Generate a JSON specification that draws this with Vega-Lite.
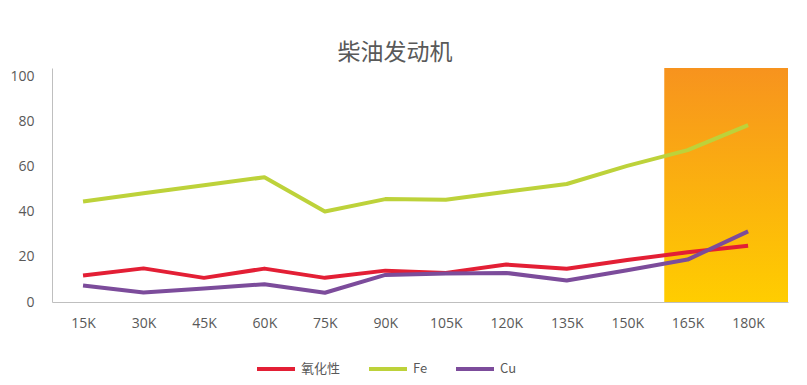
{
  "$schema": "https://vega.github.io/schema/vega-lite/v6.json",
  "width": 736,
  "height": 234,
  "autosize": "none",
  "padding": {"left": 52, "top": 68, "right": 19, "bottom": 83},
  "background": "white",
  "config": {"view": {"stroke": null}},
  "title": {
    "text": "柴油发动机",
    "font": "Noto Sans CJK SC",
    "fontSize": 23,
    "fontWeight": "normal",
    "color": "#595959",
    "anchor": "middle",
    "dx": -25,
    "offset": 3
  },
  "datasets": {
    "lines": [
      {"k": 15, "series": "氧化性", "value": 11.7},
      {"k": 30, "series": "氧化性", "value": 14.9},
      {"k": 45, "series": "氧化性", "value": 10.7},
      {"k": 60, "series": "氧化性", "value": 14.8},
      {"k": 75, "series": "氧化性", "value": 10.7},
      {"k": 90, "series": "氧化性", "value": 13.9},
      {"k": 105, "series": "氧化性", "value": 12.9},
      {"k": 120, "series": "氧化性", "value": 16.6},
      {"k": 135, "series": "氧化性", "value": 14.7},
      {"k": 150, "series": "氧化性", "value": 18.6},
      {"k": 165, "series": "氧化性", "value": 22.0},
      {"k": 180, "series": "氧化性", "value": 24.9},
      {"k": 15, "series": "Fe", "value": 44.5},
      {"k": 30, "series": "Fe", "value": 48.2},
      {"k": 45, "series": "Fe", "value": 51.7},
      {"k": 60, "series": "Fe", "value": 55.3},
      {"k": 75, "series": "Fe", "value": 40.1},
      {"k": 90, "series": "Fe", "value": 45.6},
      {"k": 105, "series": "Fe", "value": 45.3},
      {"k": 120, "series": "Fe", "value": 48.9},
      {"k": 135, "series": "Fe", "value": 52.3},
      {"k": 150, "series": "Fe", "value": 60.3},
      {"k": 165, "series": "Fe", "value": 67.3},
      {"k": 180, "series": "Fe", "value": 78.4},
      {"k": 15, "series": "Cu", "value": 7.3},
      {"k": 30, "series": "Cu", "value": 4.2},
      {"k": 45, "series": "Cu", "value": 6.0},
      {"k": 60, "series": "Cu", "value": 7.9},
      {"k": 75, "series": "Cu", "value": 4.1},
      {"k": 90, "series": "Cu", "value": 12.0},
      {"k": 105, "series": "Cu", "value": 12.6},
      {"k": 120, "series": "Cu", "value": 12.9},
      {"k": 135, "series": "Cu", "value": 9.5},
      {"k": 150, "series": "Cu", "value": 14.1},
      {"k": 165, "series": "Cu", "value": 18.8},
      {"k": 180, "series": "Cu", "value": 31.3}
    ],
    "band": [{"start": 159.2, "end": 189.9, "low": 0, "high": 103.7}]
  },
  "layer": [
    {
      "data": {"name": "band"},
      "mark": {
        "type": "rect",
        "color": {
          "gradient": "linear",
          "x1": 0, "y1": 0, "x2": 0, "y2": 1,
          "stops": [
            {"offset": 0, "color": "#F7931E"},
            {"offset": 1, "color": "#FFCD00"}
          ]
        }
      },
      "encoding": {
        "x": {"field": "start", "type": "quantitative", "scale": {"domain": [7.3, 189.9], "nice": false, "zero": false}},
        "x2": {"field": "end"},
        "y": {"field": "low", "type": "quantitative", "scale": {"domain": [0, 103.7], "nice": false}},
        "y2": {"field": "high"}
      }
    },
    {
      "data": {"name": "lines"},
      "mark": {"type": "line", "strokeWidth": 4, "strokeJoin": "round"},
      "encoding": {
        "x": {
          "field": "k", "type": "quantitative",
          "scale": {"domain": [7.3, 189.9], "nice": false, "zero": false},
          "axis": {
            "title": null,
            "values": [15, 30, 45, 60, 75, 90, 105, 120, 135, 150, 165, 180],
            "labelExpr": "datum.value + 'K'",
            "grid": false,
            "ticks": false,
            "labelPadding": 14,
            "labelFont": "Open Sans",
            "labelFontSize": 14,
            "labelColor": "#595959",
            "domainColor": "#BFBFBF",
            "labelFlush": false
          }
        },
        "y": {
          "field": "value", "type": "quantitative",
          "scale": {"domain": [0, 103.7], "nice": false},
          "axis": {
            "title": null,
            "values": [0, 20, 40, 60, 80, 100],
            "grid": false,
            "ticks": false,
            "labelPadding": 18,
            "labelFont": "Open Sans",
            "labelFontSize": 14,
            "labelColor": "#595959",
            "domainColor": "#BFBFBF",
            "labelFlush": false
          }
        },
        "color": {
          "field": "series", "type": "nominal",
          "scale": {"domain": ["氧化性", "Fe", "Cu"], "range": ["#E31F35", "#BDD23A", "#7C4C9B"]},
          "legend": {
            "title": null,
            "orient": "none",
            "direction": "horizontal",
            "legendX": 203,
            "legendY": 280,
            "symbolType": "stroke",
            "symbolSize": 1444,
            "symbolStrokeWidth": 4,
            "labelFont": "Noto Sans CJK SC",
            "labelFontSize": 13,
            "labelColor": "#595959",
            "labelOffset": 4,
            "columnPadding": 20
          }
        }
      }
    }
  ]
}
